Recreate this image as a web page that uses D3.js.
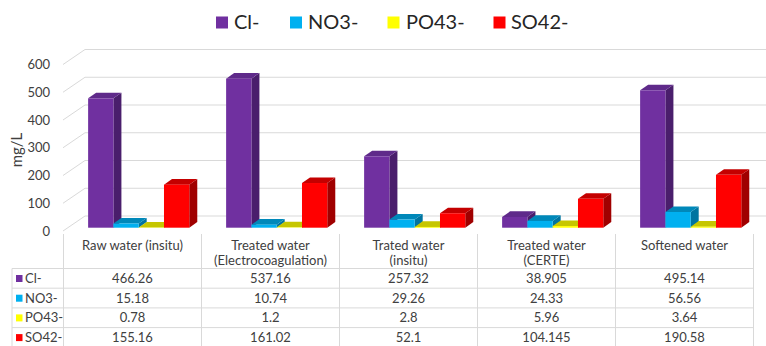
<!DOCTYPE html>
<html>
<head>
<meta charset="utf-8">
<script src="https://cdn.jsdelivr.net/npm/d3@7"></script>
<style>
  html, body { margin: 0; padding: 0; background: #fff; }
  svg { display: block; font-family: Lato, "Liberation Sans", sans-serif; }
</style>
</head>
<body>
<svg id="chart" width="766" height="346"></svg>
<script>
// Anion concentrations (mg/L) per water sample
const categories = [
  ["Raw water (insitu)"],
  ["Treated water", "(Electrocoagulation)"],
  ["Trated water", "(insitu)"],
  ["Treated water", "(CERTE)"],
  ["Softened water"]
];
const seriesNames = ["Cl-", "NO3-", "PO43-", "SO42-"];
const clValues  = [466.26, 537.16, 257.32, 38.905, 495.14];
const no3Values = [15.18, 10.74, 29.26, 24.33, 56.56];
const po4Values = [0.78, 1.2, 2.8, 5.96, 3.64];
const so4Values = [155.16, 161.02, 52.1, 104.145, 190.58];
const yTicks = [0, 100, 200, 300, 400, 500, 600];

const seriesValues = [clValues, no3Values, po4Values, so4Values];
// front, top, side shades for each series
const palette = [
  { front: "#7030A0", top: "#5f2a8a", side: "#4a1e6c" },
  { front: "#00B0F0", top: "#0088b9", side: "#0074a0" },
  { front: "#FFFF00", top: "#c6c600", side: "#a6a600" },
  { front: "#FF0000", top: "#c40000", side: "#a00000" }
];

const svg = d3.select("#chart");
const W = 766;

// Layout of the data table and the 3D box
const tableLeft = 12, colLeft = 63.5, colW = 138;
const tableRight = colLeft + colW * categories.length;
const headerTop = 234, rowTop = 268.5, rowH = 19.7;
const wallFrontX = 63, wallBackX = 85;
const depth = { dx: 8, dy: -5.6 };   // column depth
const perUnit = 0.2775;             // px per mg/L

const yFront = d3.scaleLinear().domain([0, 600]).range([231, 231 - 600 * perUnit]);
const yBack  = d3.scaleLinear().domain([0, 600]).range([216, 216 - 600 * perUnit]);
const yBar   = d3.scaleLinear().domain([0, 600]).range([227.7, 227.7 - 600 * perUnit]);

const xCat = d3.scaleBand()
  .domain(d3.range(categories.length))
  .range([colLeft + 6.2, tableRight + 6.2])
  .paddingInner(0.267)
  .paddingOuter(0.1335);
const xSer = d3.scaleBand().domain(d3.range(seriesNames.length)).range([0, xCat.bandwidth()]);

const grid = "#d9d9d9";

// side wall diagonals and back wall gridlines
const gGrid = svg.append("g");
gGrid.selectAll("line.side").data(yTicks).join("line")
  .attr("x1", wallFrontX).attr("y1", d => yFront(d))
  .attr("x2", wallBackX).attr("y2", d => yBack(d))
  .attr("stroke", grid).attr("stroke-width", 1);
gGrid.selectAll("line.back").data(yTicks).join("line")
  .attr("x1", wallBackX).attr("y1", d => yBack(d))
  .attr("x2", W).attr("y2", d => yBack(d))
  .attr("stroke", grid).attr("stroke-width", 1);

// y axis labels
const yAxis = d3.axisLeft(yFront).tickValues(yTicks).tickSize(0).tickPadding(0);
const gY = svg.append("g").attr("transform", "translate(50,0)").call(yAxis);
gY.select(".domain").remove();
gY.selectAll("text").attr("font-size", 13).attr("fill", "#404040")
  .attr("font-family", "Lato, sans-serif");

svg.append("text")
  .attr("transform", "translate(22,150) rotate(-90)")
  .attr("text-anchor", "middle")
  .attr("font-size", 15).attr("fill", "#404040")
  .text("mg/L");

// 3D columns, drawn left to right so each front face covers the previous side face
const bars = [];
categories.forEach((c, i) => {
  seriesNames.forEach((s, j) => {
    bars.push({ i, j, v: seriesValues[j][i] });
  });
});
const gBars = svg.append("g");
const bw = xSer.bandwidth();
bars.forEach(b => {
  const x0 = xCat(b.i) + xSer(b.j);
  const x1 = x0 + bw;
  const yb = yBar(0), yt = yBar(b.v);
  const col = palette[b.j];
  const g = gBars.append("g");
  // side face
  g.append("path")
    .attr("d", `M${x1},${yb}L${x1 + depth.dx},${yb + depth.dy}L${x1 + depth.dx},${yt + depth.dy}L${x1},${yt}Z`)
    .attr("fill", col.side);
  // top face
  g.append("path")
    .attr("d", `M${x0},${yt}L${x1},${yt}L${x1 + depth.dx},${yt + depth.dy}L${x0 + depth.dx},${yt + depth.dy}Z`)
    .attr("fill", col.top);
  // front face
  g.append("rect")
    .attr("x", x0).attr("y", yt)
    .attr("width", bw).attr("height", Math.max(0, yb - yt))
    .attr("fill", col.front);
});

// legend
const legendItems = [
  { x: 216, tx: 234 },
  { x: 290, tx: 308 },
  { x: 387.5, tx: 406 },
  { x: 493.5, tx: 511 }
];
const gLeg = svg.append("g");
legendItems.forEach((l, k) => {
  gLeg.append("rect").attr("x", l.x).attr("y", 16.5).attr("width", 12).attr("height", 12)
    .attr("fill", palette[k].front);
  gLeg.append("text").attr("x", l.tx).attr("y", 29).attr("font-size", 20)
    .attr("fill", "#262626").text(seriesNames[k]);
});

// data table
const gT = svg.append("g");
const tableBottom = rowTop + rowH * seriesNames.length;
// vertical lines
d3.range(categories.length + 1).forEach(k => {
  const x = colLeft + k * colW;
  gT.append("line").attr("x1", x).attr("x2", x)
    .attr("y1", headerTop).attr("y2", tableBottom)
    .attr("stroke", grid);
});
gT.append("line").attr("x1", tableLeft).attr("x2", tableLeft)
  .attr("y1", rowTop).attr("y2", tableBottom).attr("stroke", grid);
// horizontal lines
d3.range(seriesNames.length + 1).forEach(r => {
  const y = rowTop + r * rowH;
  gT.append("line").attr("x1", tableLeft).attr("x2", tableRight)
    .attr("y1", y).attr("y2", y).attr("stroke", grid);
});
// header text
categories.forEach((lines, i) => {
  const cx = colLeft + (i + 0.5) * colW;
  lines.forEach((t, li) => {
    gT.append("text").attr("x", cx).attr("y", 249.5 + li * 15.5)
      .attr("text-anchor", "middle").attr("font-size", 13).attr("fill", "#404040")
      .text(t);
  });
});
// rows
seriesNames.forEach((s, j) => {
  const y = rowTop + j * rowH;
  gT.append("rect").attr("x", 16).attr("y", y + 6.5).attr("width", 6.5).attr("height", 7)
    .attr("fill", palette[j].front);
  gT.append("text").attr("x", 25).attr("y", y + 14.5).attr("font-size", 13)
    .attr("fill", "#404040").text(s);
  seriesValues[j].forEach((v, i) => {
    gT.append("text").attr("x", colLeft + (i + 0.5) * colW).attr("y", y + 14.5)
      .attr("text-anchor", "middle").attr("font-size", 13).attr("fill", "#404040")
      .text(String(v));
  });
});
</script>
</body>
</html>
